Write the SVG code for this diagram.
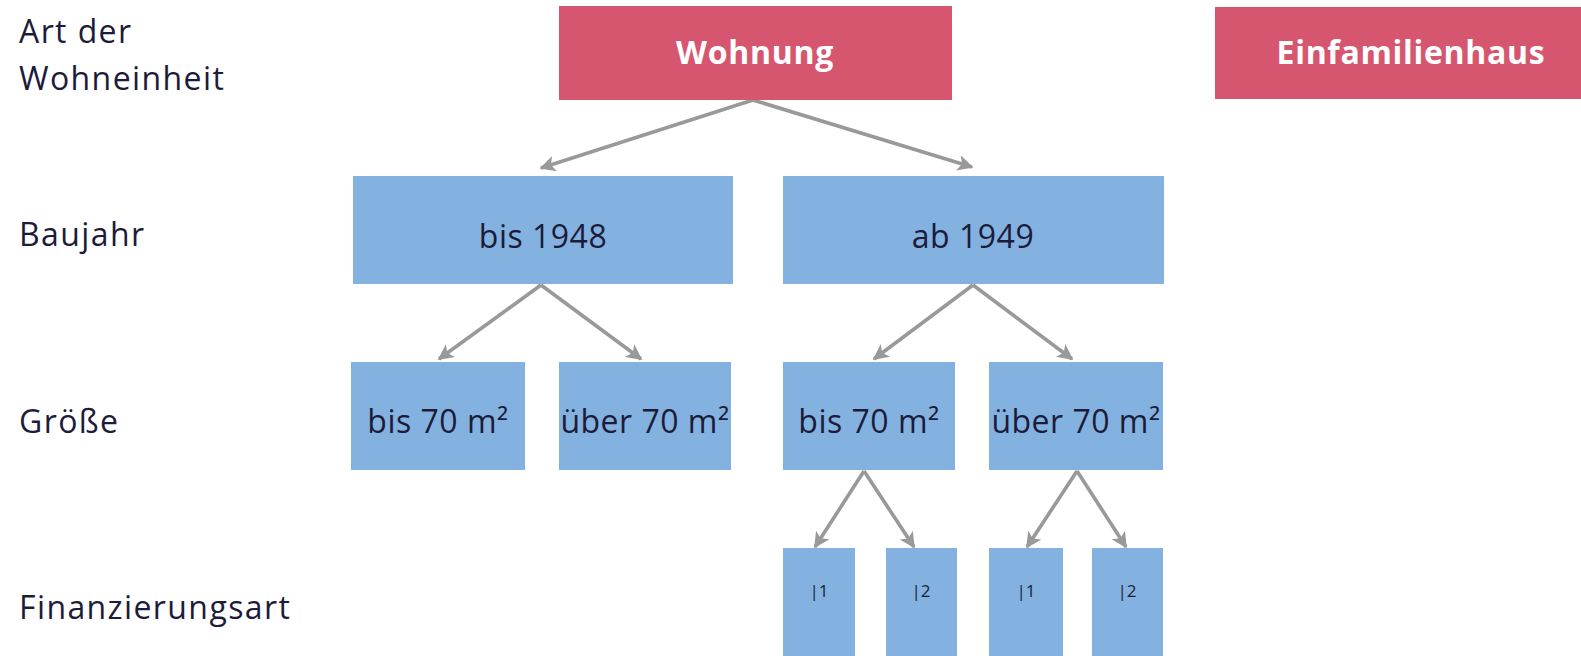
<svg xmlns="http://www.w3.org/2000/svg" width="1581" height="656" viewBox="0 0 1581 656">
  <defs>
    <marker id="arrow" viewBox="0 0 10 10" refX="9" refY="5" markerWidth="4.4" markerHeight="4.4" orient="auto" markerUnits="strokeWidth">
      <path d="M0,0 L10,5 L0,10 L2.5,5 Z" fill="#999999"/>
    </marker>
  </defs>
  <style>
    .pink { fill: #d6566f; }
    .blue { fill: #83b2e0; }
    .head { font-family: "Open Sans", "Liberation Sans", sans-serif; font-weight: bold; font-size: 32px; letter-spacing: 0.7px; fill: #ffffff; text-anchor: middle; }
    .lbl { font-family: "Open Sans", "Liberation Sans", sans-serif; font-size: 32px; letter-spacing: 0.5px; fill: #1c1c3a; text-anchor: middle; }
    .sm { font-family: "Open Sans", "Liberation Sans", sans-serif; font-size: 17px; fill: #1c1c3a; text-anchor: middle; }
    .row { font-family: "Open Sans", "Liberation Sans", sans-serif; font-size: 32px; letter-spacing: 1.4px; fill: #1c1c3a; }
    .conn { stroke: #999999; stroke-width: 3.6; fill: none; marker-end: url(#arrow); }
  </style>
  <rect width="1581" height="656" fill="#ffffff"/>

  <!-- row captions -->
  <g id="row-labels">
    <text class="row" x="19" y="43">Art der</text>
    <text class="row" x="19" y="90">Wohneinheit</text>
    <text class="row" x="19" y="246">Baujahr</text>
    <text class="row" x="19" y="433">Größe</text>
    <text class="row" x="19" y="619">Finanzierungsart</text>
  </g>

  <!-- connectors -->
  <g id="connectors">
    <line class="conn" x1="753" y1="100" x2="541" y2="168"/>
    <line class="conn" x1="753" y1="100" x2="972" y2="167"/>
    <line class="conn" x1="541" y1="285" x2="439" y2="359"/>
    <line class="conn" x1="541" y1="285" x2="641" y2="359"/>
    <line class="conn" x1="973" y1="285" x2="874" y2="359"/>
    <line class="conn" x1="973" y1="285" x2="1072" y2="359"/>
    <line class="conn" x1="864" y1="471" x2="815" y2="547"/>
    <line class="conn" x1="864" y1="471" x2="914" y2="547"/>
    <line class="conn" x1="1077" y1="471" x2="1027" y2="547"/>
    <line class="conn" x1="1077" y1="471" x2="1126" y2="547"/>
  </g>

  <!-- level 1 -->
  <g id="wohnung">
    <rect class="pink" x="559" y="6" width="393" height="94"/>
    <text class="head" x="755" y="64">Wohnung</text>
  </g>
  <g id="einfamilienhaus">
    <rect class="pink" x="1215" y="7" width="366" height="92"/>
    <text class="head" x="1411" y="64">Einfamilienhaus</text>
  </g>

  <!-- level 2 -->
  <g id="bis1948">
    <rect class="blue" x="353" y="176" width="380" height="108"/>
    <text class="lbl" x="543" y="248">bis 1948</text>
  </g>
  <g id="ab1949">
    <rect class="blue" x="783" y="176" width="381" height="108"/>
    <text class="lbl" x="973" y="248">ab 1949</text>
  </g>

  <!-- level 3 -->
  <g id="g1-bis70">
    <rect class="blue" x="351" y="362" width="174" height="108"/>
    <text class="lbl" x="438" y="433">bis 70 m²</text>
  </g>
  <g id="g1-ueber70">
    <rect class="blue" x="559" y="362" width="172" height="108"/>
    <text class="lbl" x="645" y="433">über 70 m²</text>
  </g>
  <g id="g2-bis70">
    <rect class="blue" x="783" y="362" width="172" height="108"/>
    <text class="lbl" x="869" y="433">bis 70 m²</text>
  </g>
  <g id="g2-ueber70">
    <rect class="blue" x="989" y="362" width="174" height="108"/>
    <text class="lbl" x="1076" y="433">über 70 m²</text>
  </g>

  <!-- level 4 -->
  <g id="f1">
    <rect class="blue" x="783" y="548" width="72" height="108"/>
    <text class="sm" x="819" y="597">|1</text>
  </g>
  <g id="f2">
    <rect class="blue" x="886" y="548" width="71" height="108"/>
    <text class="sm" x="921" y="597">|2</text>
  </g>
  <g id="f3">
    <rect class="blue" x="989" y="548" width="74" height="108"/>
    <text class="sm" x="1026" y="597">|1</text>
  </g>
  <g id="f4">
    <rect class="blue" x="1092" y="548" width="71" height="108"/>
    <text class="sm" x="1127" y="597">|2</text>
  </g>
</svg>
